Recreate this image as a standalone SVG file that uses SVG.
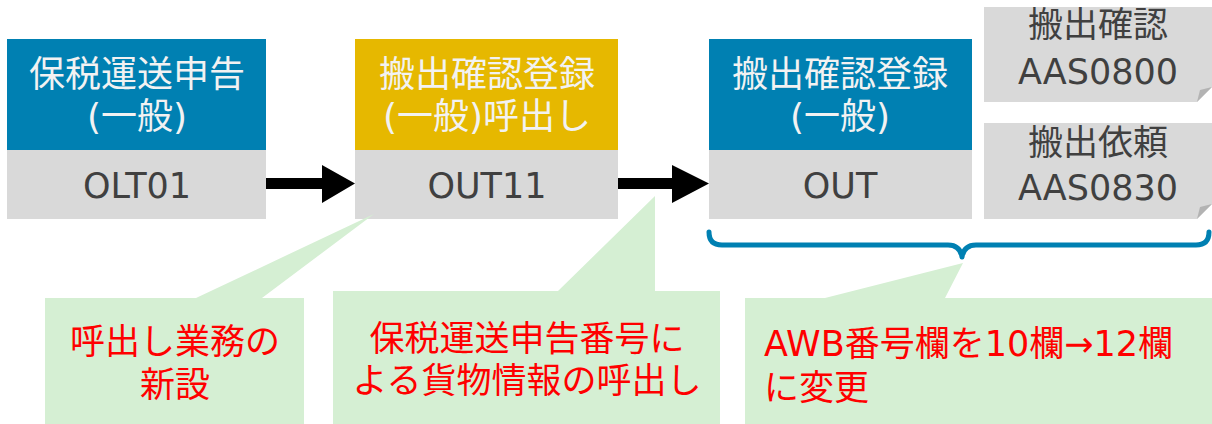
<svg xmlns="http://www.w3.org/2000/svg" width="1212" height="424" viewBox="0 0 1212 424">
<style>
text{font-family:"DejaVu Sans","Noto Sans CJK JP",sans-serif;}
.hdr{fill:#f2f2f2;font-size:36px;text-anchor:middle;}
.code{fill:#404040;font-size:35px;text-anchor:middle;}
.note{fill:#404040;font-size:35px;text-anchor:middle;}
.red{fill:#ff0000;font-size:35px;}
.mid{text-anchor:middle;}
.blue{fill:#0080b2;}
.yel{fill:#e6b800;}
.gray{fill:#d9d9d9;}
.green{fill:#d5efd3;}
</style>
<rect width="1212" height="424" fill="#ffffff"/>

<g id="node-olt01">
<rect class="blue" x="7" y="39" width="259" height="111"/>
<rect class="gray" x="7" y="150" width="259" height="69"/>
<text class="hdr" x="137" y="87">保税運送申告</text>
<text class="hdr" x="137" y="129">(一般)</text>
<text class="code" x="137" y="198">OLT01</text>
</g>

<g id="node-out11">
<rect class="yel" x="355" y="39" width="263" height="111"/>
<rect class="gray" x="355" y="150" width="263" height="69"/>
<text class="hdr" x="487" y="87">搬出確認登録</text>
<text class="hdr" x="487" y="129">(一般)呼出し</text>
<text class="code" x="487" y="198">OUT11</text>
</g>

<g id="node-out">
<rect class="blue" x="709" y="39" width="263" height="111"/>
<rect class="gray" x="709" y="150" width="263" height="69"/>
<text class="hdr" x="840" y="87">搬出確認登録</text>
<text class="hdr" x="840" y="129">(一般)</text>
<text class="code" x="840" y="198">OUT</text>
</g>

<g id="note-aas0800">
<polygon class="gray" points="984,7 1212,7 1212,87 1197,102 984,102"/>
<polygon fill="#b3b3b3" points="1197,102 1212,87 1200,90"/>
<text class="note" x="1098" y="37">搬出確認</text>
<text class="note" x="1098" y="84">AAS0800</text>
</g>

<g id="note-aas0830">
<polygon class="gray" points="984,123 1212,123 1212,204 1197,219 984,219"/>
<polygon fill="#b3b3b3" points="1197,219 1212,204 1200,207"/>
<text class="note" x="1098" y="155">搬出依頼</text>
<text class="note" x="1098" y="200">AAS0830</text>
</g>

<g id="connectors">
<polygon fill="#000000" points="266,178 322,178 322,165 355,183.5 322,203 322,189 266,189"/>
<polygon fill="#000000" points="618,178 672,178 672,165 709,183.5 672,203 672,189 618,189"/>
<path d="M709,232 Q709,245 722,245 L948,245 Q960,245 962,257 Q964,245 976,245 L1196,245 Q1209,245 1209,232" fill="none" stroke="#0080b2" stroke-width="5" stroke-linecap="round" stroke-linejoin="round"/>
</g>

<g id="callout-1">
<polygon class="green" points="45,298 196,298 374,214 262,298 304,298 304,424 45,424"/>
<text class="red mid" x="175" y="354">呼出し業務の</text>
<text class="red mid" x="175" y="397">新設</text>
</g>

<g id="callout-2">
<polygon class="green" points="333,291 558,291 655,196 655,291 720,291 720,424 333,424"/>
<text class="red mid" x="527" y="351">保税運送申告番号に</text>
<text class="red mid" x="527" y="393">よる貨物情報の呼出し</text>
</g>

<g id="callout-3">
<polygon class="green" points="745,298 825,298 963,263 945,298 1212,298 1212,424 745,424"/>
<text class="red" x="764" y="356" font-size="36">AWB番号欄を10欄→12欄</text>
<text class="red" x="764" y="400">に変更</text>
</g>
</svg>
